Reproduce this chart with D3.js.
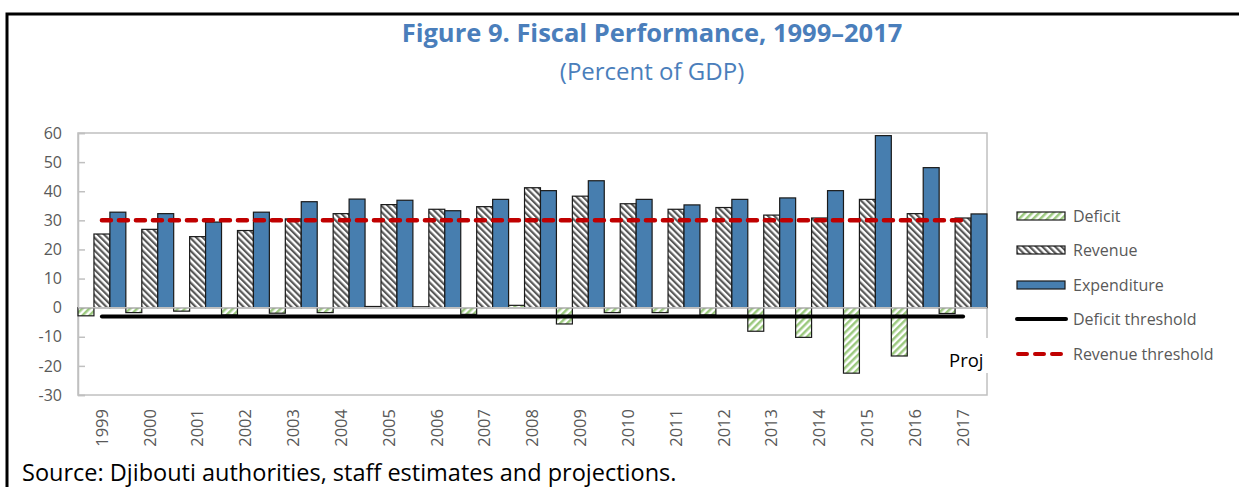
<!DOCTYPE html>
<html>
  <head>
    <title>Fiscal Performance D3</title>
    <script src="https://d3js.org/d3.v7.min.js"></script>
    <style>
      body { margin: 0; background: #fff; }
      text { font-family: "Open Sans", "Noto Sans", sans-serif; }
    </style>
  </head>
  <body>
    <div id="chart"></div>
    <script>
// Data (percent of GDP)
const years = ["1999","2000","2001","2002","2003","2004","2005","2006","2007","2008",
               "2009","2010","2011","2012","2013","2014","2015","2016","2017"];
const deficit = [-2.8, -1.7, -1.2, -2.5, -1.9, -1.7, 0.4, 0.3, -2.3, 0.8,
                 -5.6, -1.7, -1.7, -2.5, -8.1, -10.2, -22.5, -16.6, -2.0];
const revenue = [25.3, 26.9, 24.4, 26.5, 30.5, 32.3, 35.4, 33.8, 34.7, 41.2,
                 38.3, 35.7, 33.8, 34.4, 31.8, 30.8, 37.2, 32.3, 30.8];
const expenditure = [32.8, 32.3, 29.4, 32.8, 36.4, 37.3, 36.9, 33.3, 37.2, 40.2,
                     43.6, 37.2, 35.3, 37.2, 37.7, 40.2, 59.1, 48.1, 32.2];
const deficitThreshold = [-3, -3, -3, -3, -3, -3, -3, -3, -3, -3,
                          -3, -3, -3, -3, -3, -3, -3, -3, -3];
const revenueThreshold = [30, 30, 30, 30, 30, 30, 30, 30, 30, 30,
                          30, 30, 30, 30, 30, 30, 30, 30, 30];
const yTicks = [-30, -20, -10, 0, 10, 20, 30, 40, 50, 60];
const barSeries = ["Deficit", "Revenue", "Expenditure"];

// Dimensions
const width = 1239;
const height = 487;
const plotLeft = 78;
const plotRight = 987;
const plotTop = 133;
const plotBottom = 395;

const svg = d3.select("#chart").append("svg")
  .attr("width", width)
  .attr("height", height)
  .attr("viewBox", [0, 0, width, height]);

// Patterns
const defs = svg.append("defs");
const revPat = defs.append("pattern")
  .attr("id", "revPat")
  .attr("patternUnits", "userSpaceOnUse")
  .attr("width", 4.5).attr("height", 4.5)
  .attr("patternTransform", "rotate(-45)");
revPat.append("rect").attr("width", 4.5).attr("height", 4.5).attr("fill", "#fff");
revPat.append("rect").attr("width", 2.2).attr("height", 4.5).attr("fill", "#595959");

const defPat = defs.append("pattern")
  .attr("id", "defPat")
  .attr("patternUnits", "userSpaceOnUse")
  .attr("width", 5).attr("height", 5)
  .attr("patternTransform", "rotate(45)");
defPat.append("rect").attr("width", 5).attr("height", 5).attr("fill", "#fff");
defPat.append("rect").attr("width", 2.5).attr("height", 5).attr("fill", "#9cc97f");

const fills = { Deficit: "url(#defPat)", Revenue: "url(#revPat)", Expenditure: "#477eaf" };
const values = { Deficit: deficit, Revenue: revenue, Expenditure: expenditure };

// Frame
svg.append("path")
  .attr("d", `M7,${height} V14 H${width}`)
  .attr("fill", "none")
  .attr("stroke", "#000")
  .attr("stroke-width", 3);

// Titles
svg.append("text")
  .attr("x", 652).attr("y", 42)
  .attr("text-anchor", "middle")
  .attr("fill", "#4a7ebb")
  .style("font-size", "25.5px")
  .style("font-weight", "bold")
  .text("Figure 9. Fiscal Performance, 1999–2017");

svg.append("text")
  .attr("x", 652).attr("y", 80)
  .attr("text-anchor", "middle")
  .attr("fill", "#4a7ebb")
  .style("font-size", "24px")
  .text("(Percent of GDP)");

// Scales
const x = d3.scaleBand()
  .domain(years)
  .range([plotLeft, plotRight])
  .padding(0);

const xs = d3.scaleBand()
  .domain(barSeries)
  .range([0, x.bandwidth()])
  .padding(0);

const y = d3.scaleLinear()
  .domain([-30, 60])
  .range([plotBottom, plotTop]);

// Plot border
svg.append("rect")
  .attr("x", plotLeft).attr("y", plotTop)
  .attr("width", plotRight - plotLeft)
  .attr("height", plotBottom - plotTop)
  .attr("fill", "none")
  .attr("stroke", "#c0c0c0")
  .attr("stroke-width", 1.5);

// Y axis
const yAxis = svg.append("g")
  .attr("transform", `translate(${plotLeft},0)`)
  .call(d3.axisLeft(y).tickValues(yTicks).tickSize(-7).tickPadding(16)
    .tickFormat(d => String(d)));
yAxis.select(".domain").attr("stroke", "#c0c0c0").attr("stroke-width", 1.5);
yAxis.selectAll(".tick line").attr("stroke", "#c0c0c0").attr("stroke-width", 1.5);
yAxis.selectAll(".tick text")
  .attr("fill", "#595959")
  .style("font-size", "16px")
  .style("font-family", "'Open Sans', sans-serif");

// X labels
const xAxis = svg.append("g")
  .attr("transform", `translate(0,${plotBottom})`)
  .call(d3.axisBottom(x).tickSize(0));
xAxis.select(".domain").remove();
xAxis.selectAll(".tick text")
  .attr("transform", "rotate(-90)")
  .attr("text-anchor", "end")
  .attr("x", -14)
  .attr("y", 0)
  .attr("dy", "0.35em")
  .attr("fill", "#595959")
  .style("font-size", "16.5px")
  .style("font-family", "'Open Sans', sans-serif");

// Bars
const groups = svg.append("g")
  .selectAll("g")
  .data(years)
  .join("g")
  .attr("transform", d => `translate(${x(d)},0)`);

groups.selectAll("rect")
  .data((d, i) => barSeries.map(s => ({ key: s, value: values[s][i] })))
  .join("rect")
  .attr("x", d => xs(d.key))
  .attr("y", d => y(Math.max(0, d.value)))
  .attr("width", xs.bandwidth())
  .attr("height", d => Math.abs(y(d.value) - y(0)))
  .attr("fill", d => fills[d.key])
  .attr("stroke", "#1a1a1a")
  .attr("stroke-width", 1.2);

// Zero line
svg.append("line")
  .attr("x1", plotLeft).attr("x2", plotRight)
  .attr("y1", y(0)).attr("y2", y(0))
  .attr("stroke", "#c0c0c0")
  .attr("stroke-width", 1.5);

// Threshold lines
const line = d3.line()
  .x((d, i) => x(years[i]) + x.bandwidth() / 2)
  .y(d => y(d));

svg.append("path")
  .datum(deficitThreshold)
  .attr("fill", "none")
  .attr("stroke", "#000")
  .attr("stroke-width", 4)
  .attr("stroke-linecap", "round")
  .attr("d", line);

svg.append("path")
  .datum(revenueThreshold)
  .attr("fill", "none")
  .attr("stroke", "#c00000")
  .attr("stroke-width", 4.5)
  .attr("stroke-dasharray", "9,8")
  .attr("stroke-linecap", "round")
  .attr("d", line);

// "Proj" label
svg.append("rect")
  .attr("x", 945).attr("y", 338)
  .attr("width", 46).attr("height", 35)
  .attr("fill", "#fff");
svg.append("text")
  .attr("x", 949).attr("y", 367)
  .attr("fill", "#000")
  .style("font-size", "18.5px")
  .text("Proj");

// Legend
const legend = svg.append("g").attr("transform", "translate(1017,0)");
const legendRows = [
  { label: "Deficit", type: "rect", fill: fills.Deficit, y: 216 },
  { label: "Revenue", type: "rect", fill: fills.Revenue, y: 250 },
  { label: "Expenditure", type: "rect", fill: fills.Expenditure, y: 285 },
  { label: "Deficit threshold", type: "solid", y: 319 },
  { label: "Revenue threshold", type: "dash", y: 354 }
];
legendRows.forEach(r => {
  if (r.type === "rect") {
    legend.append("rect")
      .attr("x", 0).attr("y", r.y - 4)
      .attr("width", 48).attr("height", 8)
      .attr("fill", r.fill)
      .attr("stroke", "#1a1a1a")
      .attr("stroke-width", 1.2);
  } else if (r.type === "solid") {
    legend.append("line")
      .attr("x1", 0).attr("x2", 49)
      .attr("y1", r.y).attr("y2", r.y)
      .attr("stroke", "#000")
      .attr("stroke-width", 4)
      .attr("stroke-linecap", "round");
  } else {
    legend.append("line")
      .attr("x1", 1).attr("x2", 49)
      .attr("y1", r.y).attr("y2", r.y)
      .attr("stroke", "#c00000")
      .attr("stroke-width", 4)
      .attr("stroke-dasharray", "9,8")
      .attr("stroke-linecap", "round");
  }
  legend.append("text")
    .attr("x", 56).attr("y", r.y)
    .attr("dy", "0.35em")
    .attr("fill", "#595959")
    .style("font-size", "16px")
    .text(r.label);
});

// Source note
svg.append("text")
  .attr("x", 22).attr("y", 481)
  .attr("fill", "#000")
  .style("font-size", "23.5px")
  .text("Source: Djibouti authorities, staff estimates and projections.");
    </script>
  </body>
</html>
